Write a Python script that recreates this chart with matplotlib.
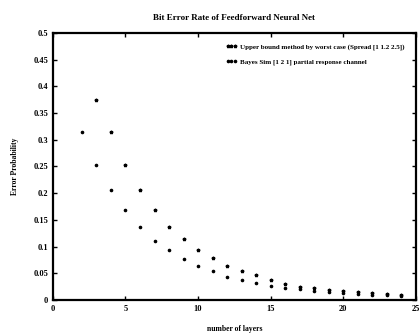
import numpy as np
import matplotlib
matplotlib.use('Agg')
import matplotlib.pyplot as plt

layers_a = [2, 3, 4, 5, 6, 7, 8, 9, 10, 11, 12, 13, 14, 15, 16, 17, 18, 19, 20, 21, 22, 23, 24]
err_a = [0.315, 0.253, 0.206, 0.168, 0.137, 0.110, 0.094, 0.077, 0.064, 0.054, 0.043, 0.037,
         0.032, 0.027, 0.023, 0.020, 0.017, 0.015, 0.013, 0.011, 0.010, 0.009, 0.008]
layers_b = [3, 4, 5, 6, 7, 8, 9, 10, 11, 12, 13, 14, 15, 16, 17, 18, 19, 20, 21, 22, 23, 24]
err_b = [0.375, 0.315, 0.253, 0.206, 0.168, 0.137, 0.114, 0.094, 0.079, 0.064, 0.054, 0.047,
         0.038, 0.030, 0.025, 0.022, 0.019, 0.017, 0.015, 0.013, 0.012, 0.010]

label_b = 'Upper bound method by worst case (Spread [1 1.2 2.5])'
label_a = 'Bayes Sim [1 2 1] partial response channel'
xticks = [0, 5, 10, 15, 20, 25]
yticks = [0, 0.05, 0.1, 0.15, 0.2, 0.25, 0.3, 0.35, 0.4, 0.45, 0.5]

plt.rcParams['font.family'] = ['Liberation Serif', 'DejaVu Serif']
plt.rcParams['font.weight'] = 'bold'

fig = plt.figure(figsize=(4.2, 3.36), dpi=100)
ax = fig.add_axes([0.126, 0.107, 0.864, 0.795])

ax.plot(layers_b, err_b, linestyle='none', marker='*', markersize=2.5, color='black', label=label_b)
ax.plot(layers_a, err_a, linestyle='none', marker='o', markersize=1.6, color='black', label=label_a)

ax.set_xlim(0, 25)
ax.set_ylim(0, 0.5)
ax.set_xticks(xticks)
ax.set_yticks(yticks)
ax.set_yticklabels([('%g' % v) for v in yticks])
ax.tick_params(direction='in', top=True, right=True, labelsize=6, length=3, width=1)
for s in ax.spines.values():
    s.set_linewidth(1.6)

ax.set_title('Bit Error Rate of Feedforward Neural Net', fontsize=6.5, fontweight='bold', pad=9)
ax.set_xlabel('number of layers', fontsize=5.5, fontweight='bold', labelpad=9)
ax.set_ylabel('Error Probability', fontsize=5.5, fontweight='bold', labelpad=10)

ax.legend(loc='upper right', bbox_to_anchor=(0.985, 0.985), frameon=False,
          numpoints=3, handlelength=1.6, handletextpad=0.4, labelspacing=1.3,
          prop={'weight': 'bold', 'size': 5})

fig.savefig('out.png', dpi=100)
